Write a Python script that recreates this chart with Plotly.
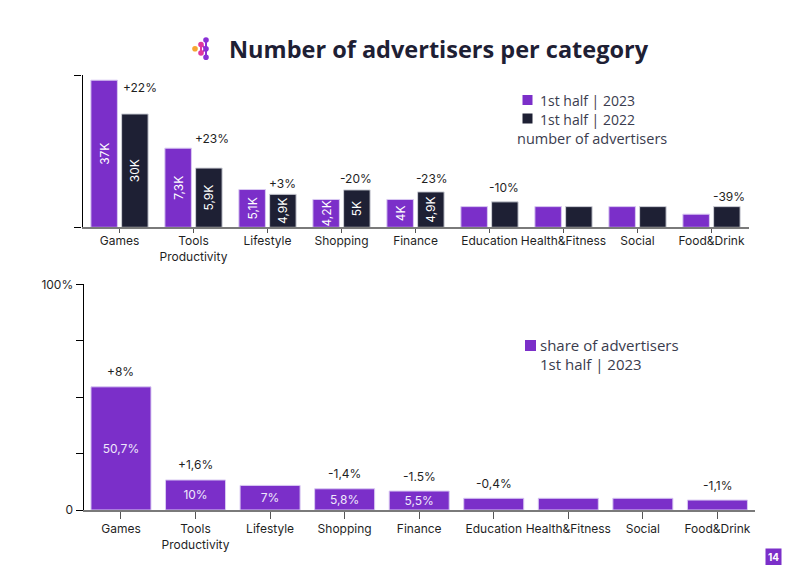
import plotly.graph_objects as go

# ---------------- data ----------------
categories = ["Games", "Tools<br>Productivity", "Lifestyle", "Shopping", "Finance",
              "Education", "Health&Fitness", "Social", "Food&Drink"]
name_2023 = "1st half | 2023"
name_2022 = "1st half | 2022"
legend_caption = "number of advertisers"
# bar heights read against the (unlabelled) top axis
adv_2023 = [37.0, 19.9, 9.5, 7.0, 7.0, 5.2, 5.2, 5.2, 3.3]
adv_2022 = [28.5, 14.9, 8.3, 9.4, 8.9, 6.4, 5.2, 5.2, 5.2]
labels_2023 = ["37K", "7,3K", "5,1K", "4,2K", "4K", "", "", "", ""]
labels_2022 = ["30K", "5,9K", "4,9K", "5K", "4,9K", "", "", "", ""]
change_adv = ["+22%", "+23%", "+3%", "-20%", "-23%", "-10%", "", "", "-39%"]

share_name_lines = ["share of advertisers", "1st half | 2023"]
share_2023 = [54.6, 13.3, 10.9, 9.4, 8.4, 5.2, 5.2, 5.2, 4.4]
share_labels = ["50,7%", "10%", "7%", "5,8%", "5,5%", "", "", "", ""]
share_change = ["+8%", "+1,6%", "", "-1,4%", "-1.5%", "-0,4%", "", "", "-1,1%"]

y_tick_vals = [0, 25, 50, 75, 100]
y_tick_text = ["0", "", "", "", "100%"]

# ---------------- style ----------------
W, H = 800, 565
PURPLE = "#7B2FC9"
NAVY = "#1E2034"
TXT = "#1f1f1f"
LEGTXT = "#3a3c4e"
AXFONT = "Inter"
TFONT = "Open Sans"


def px(x):
    return x / W


def py(y):
    return 1 - y / H


fig = go.Figure()

fig.add_trace(go.Bar(
    x=categories, y=adv_2023, name=name_2023, text=labels_2023,
    marker=dict(color=PURPLE, line=dict(color="#d9c9f2", width=1)),
    textposition="inside", insidetextanchor="middle", textangle=-90,
    constraintext="none", textfont=dict(color="white", size=12, family=AXFONT),
    xaxis="x", yaxis="y", showlegend=False, hoverinfo="skip"))
fig.add_trace(go.Bar(
    x=categories, y=adv_2022, name=name_2022, text=labels_2022,
    marker=dict(color=NAVY, line=dict(color="#cfd0d8", width=1)),
    textposition="inside", insidetextanchor="middle", textangle=-90,
    constraintext="none", textfont=dict(color="white", size=12, family=AXFONT),
    xaxis="x", yaxis="y", showlegend=False, hoverinfo="skip"))
fig.add_trace(go.Bar(
    x=categories, y=share_2023, name=" ".join(share_name_lines), text=share_labels,
    width=0.805,
    marker=dict(color=PURPLE, line=dict(color="#d9c9f2", width=1)),
    textposition="inside", insidetextanchor="middle", textangle=0,
    constraintext="none", textfont=dict(color="#efe8fb", size=12, family=AXFONT),
    xaxis="x2", yaxis="y2", showlegend=False, hoverinfo="skip"))

annotations = []
shapes = []

# year-over-year change labels above the 2022 bars
top_xshift = [20, 18, 15, 14, 16, 14, 0, 0, 17]
top_yshift = [26, 30, 11, 11, 13, 14, 0, 0, 10]
for i, c in enumerate(categories):
    if change_adv[i]:
        annotations.append(dict(
            x=c, y=adv_2022[i], xref="x", yref="y", text=change_adv[i],
            showarrow=False, xshift=top_xshift[i], yshift=top_yshift[i],
            yanchor="middle", font=dict(size=12, color=TXT, family=AXFONT)))
for i, c in enumerate(categories):
    if share_change[i]:
        annotations.append(dict(
            x=c, y=share_2023[i], xref="x2", yref="y2", text=share_change[i],
            showarrow=False, yshift=15, yanchor="middle",
            font=dict(size=12, color=TXT, family=AXFONT)))

# title
annotations.append(dict(
    x=px(227), y=py(49), xref="paper", yref="paper", xanchor="left", yanchor="middle",
    text="<b>Number of advertisers per category</b>", showarrow=False,
    font=dict(size=23.5, color=NAVY, family=TFONT)))


# hand-placed legends (keys + labels)
def legend_key(x, y, color, s=5):
    shapes.append(dict(type="rect", xref="paper", yref="paper",
                       x0=px(x - s), x1=px(x + s), y0=py(y + s), y1=py(y - s),
                       fillcolor=color, line=dict(width=0)))


def legend_text(x, y, text, size=14.5):
    annotations.append(dict(
        x=px(x), y=py(y), xref="paper", yref="paper", xanchor="left", yanchor="middle",
        text=text, showarrow=False, align="left", borderpad=0,
        font=dict(size=size, color=LEGTXT, family=TFONT)))


legend_key(527.5, 100, PURPLE)
legend_text(539, 100, name_2023, 14)
legend_key(527.5, 118.5, NAVY)
legend_text(539, 119, name_2022, 14)
legend_text(516, 138.5, legend_caption, 14.5)

legend_key(530.5, 345.5, PURPLE, 5.5)
legend_text(539, 344.5, share_name_lines[0], 15)
legend_text(539, 363.5, share_name_lines[1], 15)

# page number
annotations.append(dict(
    x=px(773), y=py(557), xref="paper", yref="paper", xanchor="center", yanchor="middle",
    text="<b>14</b>", showarrow=False, bgcolor=PURPLE, borderpad=2,
    font=dict(size=10, color="white", family=AXFONT)))


# logo (decorative dots)
def dot(cx, cy, r, color):
    shapes.append(dict(type="circle", xref="paper", yref="paper",
                       x0=px(cx - r), x1=px(cx + r), y0=py(cy + r), y1=py(cy - r),
                       fillcolor=color, line=dict(width=0)))


def seg(x0, y0, x1, y1, color):
    shapes.append(dict(type="line", xref="paper", yref="paper",
                       x0=px(x0), x1=px(x1), y0=py(y0), y1=py(y1),
                       line=dict(color=color, width=2)))


seg(201, 44.5, 201, 53, "#e0379e")
seg(206, 40, 206, 57.5, "#8a2fd6")
seg(201, 44.5, 206, 49, "#b033c0")
seg(201, 53, 206, 49, "#b033c0")
dot(195, 48.7, 2.8, "#f7a531")
dot(201, 44.5, 2.8, "#e0379e")
dot(201, 53, 2.8, "#e0379e")
dot(206, 40, 2.8, "#8a2fd6")
dot(206, 48.7, 2.8, "#8a2fd6")
dot(206, 57.3, 2.8, "#8a2fd6")

fig.update_layout(
    width=W, height=H,
    margin=dict(l=0, r=0, t=0, b=0, pad=0, autoexpand=False),
    paper_bgcolor="white", plot_bgcolor="white",
    barmode="group", bargap=0.17, bargroupgap=0.137,
    font=dict(family=AXFONT, size=12, color=TXT),
    annotations=annotations, shapes=shapes,
    showlegend=False,
    xaxis=dict(domain=[px(82.5), px(748.5)], anchor="y", showgrid=False,
               showline=True, linecolor="#7a7a7a", linewidth=1.5,
               ticks="outside", ticklen=4, tickcolor="#555", tickwidth=1,
               automargin=False, ticklabelstandoff=-2,
               tickfont=dict(size=12, color=TXT, family=AXFONT)),
    yaxis=dict(domain=[py(227.3), py(75)], anchor="x", range=[0, 38.3],
               showgrid=False, zeroline=False, showline=True, linecolor="black",
               linewidth=1.2, ticks="outside", ticklen=7, tickcolor="black",
               automargin=False,
               tickvals=[0, 38.25], showticklabels=False),
    xaxis2=dict(domain=[px(83.7), px(754.7)], anchor="y2", showgrid=False,
                showline=True, linecolor="#7a7a7a", linewidth=1.5,
                ticks="outside", ticklen=7, tickcolor="#555", tickwidth=1,
                automargin=False,
                tickfont=dict(size=12, color=TXT, family=AXFONT)),
    yaxis2=dict(domain=[py(510), py(284.3)], anchor="x2", range=[0, 100.05],
                showgrid=False, zeroline=False, showline=True, linecolor="black",
                linewidth=1.2, ticks="outside", ticklen=7, tickcolor="black",
                automargin=False,
                tickvals=y_tick_vals, ticktext=y_tick_text,
                tickfont=dict(size=12, color=TXT, family=AXFONT)),
)

fig.write_html("out.html")
